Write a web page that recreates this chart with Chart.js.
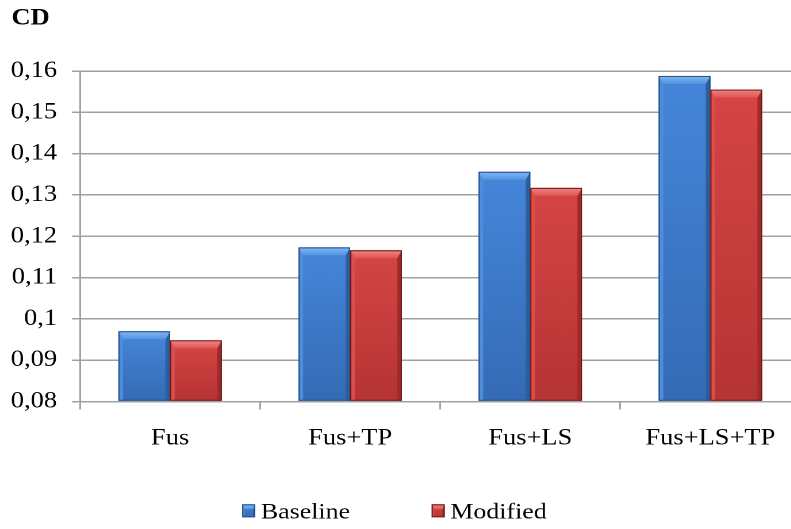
<!DOCTYPE html>
<html>
<head>
<meta charset="utf-8">
<script src="https://cdn.jsdelivr.net/npm/chart.js@4/dist/chart.umd.min.js"></script>
<style>
  html, body { margin: 0; padding: 0; background: #fff; overflow: hidden; width: 791px; height: 529px; }
  #wrap { position: absolute; left: 0; top: 0; width: 696px; height: 529px;
          transform: scaleX(1.15); transform-origin: 0 0; }
</style>
</head>
<body>
<div id="wrap"><canvas id="c" width="696" height="529"></canvas></div>
<script>
// Drag coefficient per configuration
const categories = ['Fus', 'Fus+TP', 'Fus+LS', 'Fus+LS+TP'];
const baselineCD = [0.0970, 0.1173, 0.1356, 0.1588];
const modifiedCD = [0.0948, 0.1166, 0.1317, 0.1555];
const yTicks = [0.08, 0.09, 0.10, 0.11, 0.12, 0.13, 0.14, 0.15, 0.16];

const FONT = '"Liberation Serif", "Times New Roman", serif';

const palettes = [
  { face1: '#4586da', face2: '#356bb5', top1: '#82b8f4', top2: '#5393e0', left: '#4d8ddb', right: '#2d5f9f', edge: '#25508a' },
  { face1: '#d64545', face2: '#b63434', top1: '#f28585', top2: '#de5555', left: '#da4e4e', right: '#a02a2a', edge: '#6e1a1a' }
];

// Bevelled block: face, side and top facets, dark outline
function drawBlock(ctx, p, l, t, r, b, bt, bs) {
  let g = ctx.createLinearGradient(0, t, 0, b);
  g.addColorStop(0, p.face1);
  g.addColorStop(1, p.face2);
  ctx.fillStyle = g;
  ctx.fillRect(l, t, r - l, b - t);
  ctx.fillStyle = p.left;
  ctx.beginPath();
  ctx.moveTo(l, t); ctx.lineTo(l + bs, t + bt); ctx.lineTo(l + bs, b); ctx.lineTo(l, b); ctx.closePath();
  ctx.fill();
  ctx.fillStyle = p.right;
  ctx.beginPath();
  ctx.moveTo(r, t); ctx.lineTo(r - bs, t + bt); ctx.lineTo(r - bs, b); ctx.lineTo(r, b); ctx.closePath();
  ctx.fill();
  g = ctx.createLinearGradient(0, t, 0, t + bt);
  g.addColorStop(0, p.top1);
  g.addColorStop(1, p.top2);
  ctx.fillStyle = g;
  ctx.beginPath();
  ctx.moveTo(l, t); ctx.lineTo(r, t); ctx.lineTo(r - bs, t + bt); ctx.lineTo(l + bs, t + bt); ctx.closePath();
  ctx.fill();
  ctx.strokeStyle = p.edge;
  ctx.lineWidth = 1;
  ctx.strokeRect(l + 0.5, t + 0.5, r - l - 1, b - t - 1);
}

// Redraws every bar from the library's element geometry as a bevelled block
const bevelPlugin = {
  id: 'bevel',
  afterDatasetsDraw(chart) {
    const ctx = chart.ctx;
    const area = chart.chartArea;
    chart.data.datasets.forEach((ds, di) => {
      const meta = chart.getDatasetMeta(di);
      meta.data.forEach(bar => {
        const { x, y, base, width } = bar.getProps(['x', 'y', 'base', 'width'], true);
        const t = Math.max(y, area.top), b = Math.min(base, area.bottom);
        ctx.save();
        drawBlock(ctx, palettes[di], x - width / 2, t, x + width / 2, b, Math.min(8, (b - t) / 2), 4);
        ctx.restore();
      });
    });
  }
};

// Compact legend below the axis: square swatch, small gap, label
const legendPlugin = {
  id: 'compactLegend',
  afterDraw(chart) {
    const ctx = chart.ctx;
    const box = 11.3, gap = 5, spacing = 71, cy = 510.8;
    ctx.save();
    ctx.font = `22.5px ${FONT}`;
    const items = chart.data.datasets.map((ds, i) => ({ text: ds.label, w: ctx.measureText(ds.label).width, p: palettes[i] }));
    const total = items.reduce((s, it) => s + box + gap + it.w, 0) + spacing * (items.length - 1);
    let x = chart.width / 2 - 5 - total / 2;
    items.forEach(it => {
      drawBlock(ctx, it.p, x, cy - 6.5, x + box, cy + 6.5, 5, 2);
      ctx.fillStyle = '#000';
      ctx.textBaseline = 'alphabetic';
      ctx.textAlign = 'left';
      ctx.fillText(it.text, x + box + gap, cy + 7.5);
      x += box + gap + it.w + spacing;
    });
    ctx.restore();
  }
};

const fmt = v => Number(v.toFixed(2)).toString().replace('.', ',');

new Chart(document.getElementById('c'), {
  type: 'bar',
  data: {
    labels: categories,
    datasets: [
      { label: 'Baseline', data: baselineCD, base: 0.08, backgroundColor: palettes[0].face1, borderWidth: 0 },
      { label: 'Modified', data: modifiedCD, base: 0.08, backgroundColor: palettes[1].face1, borderWidth: 0 }
    ]
  },
  options: {
    responsive: false,
    devicePixelRatio: 2,
    animation: false,
    events: [],
    layout: { padding: { left: 10, right: 0, top: 0, bottom: 35.5 } },
    datasets: { bar: { categoryPercentage: 0.574, barPercentage: 1.0 } },
    scales: {
      x: {
        offset: true,
        grid: { display: true, drawOnChartArea: false, drawTicks: true, tickLength: 8, color: '#a0a0a0', lineWidth: 1.5, offset: true },
        border: { display: true, color: '#a0a0a0', width: 1.5 },
        ticks: { color: '#000', font: { family: FONT, size: 23 }, padding: 15, maxRotation: 0 },
        afterFit(scale) { scale.height = 92; }
      },
      y: {
        min: 0.08, max: 0.16,
        afterBuildTicks(scale) { scale.ticks = yTicks.map(v => ({ value: v })); },
        grid: { color: '#a0a0a0', lineWidth: 1.5, tickLength: 7, drawTicks: true },
        border: { display: true, color: '#a0a0a0', width: 1.5 },
        ticks: { color: '#000', font: { family: FONT, size: 23 }, padding: 13, callback: v => fmt(v) },
        afterFit(scale) { scale.width = 59.6; }
      }
    },
    plugins: {
      title: {
        display: true, text: 'CD', align: 'start', color: '#000',
        font: { family: FONT, size: 23, weight: 'bold' },
        padding: { top: 5, bottom: 38.4 }
      },
      legend: { display: false },
      tooltip: { enabled: false }
    }
  },
  plugins: [bevelPlugin, legendPlugin]
});
</script>
</body>
</html>
